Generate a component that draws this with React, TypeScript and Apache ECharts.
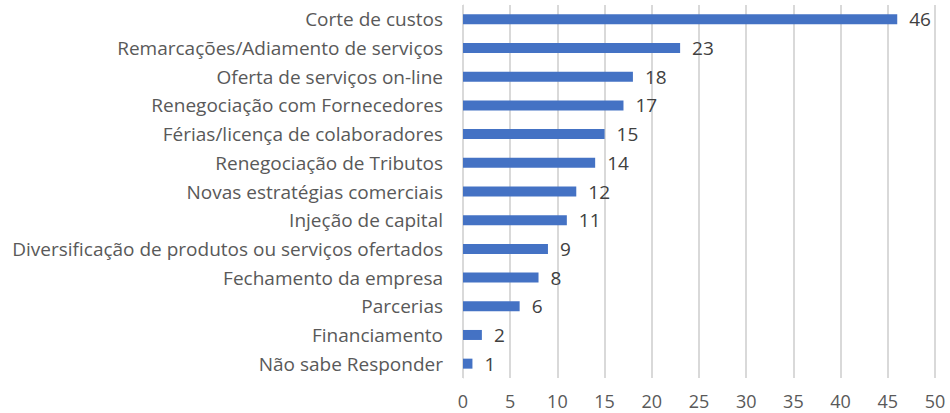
import React, { useEffect, useRef } from "react";
import * as echarts from "echarts";

const categories = [
  "Corte de custos",
  "Remarcações/Adiamento de serviços",
  "Oferta de serviços on-line",
  "Renegociação com Fornecedores",
  "Férias/licença de colaboradores",
  "Renegociação de Tributos",
  "Novas estratégias comerciais",
  "Injeção de capital",
  "Diversificação de produtos ou serviços ofertados",
  "Fechamento da empresa",
  "Parcerias",
  "Financiamento",
  "Não sabe Responder",
];
const values = [46, 23, 18, 17, 15, 14, 12, 11, 9, 8, 6, 2, 1];

export default function App() {
  const ref = useRef<HTMLDivElement>(null);
  useEffect(() => {
    const chart = echarts.init(ref.current!, null, { renderer: "svg" });
    const font = "Open Sans";
    chart.setOption({
      animation: false,
      grid: { left: 463, right: 15, top: 5, bottom: 35, containLabel: false },
      xAxis: {
        type: "value",
        min: 0,
        max: 50,
        interval: 5,
        axisLine: { show: false },
        axisTick: { show: false },
        splitLine: { lineStyle: { color: "#d9d9d9", width: 2 } },
        axisLabel: { color: "#595959", fontSize: 18, fontFamily: font, margin: 14 },
      },
      yAxis: {
        type: "category",
        data: categories,
        inverse: true,
        axisLine: { show: true, lineStyle: { color: "#d9d9d9", width: 1 } },
        axisTick: { show: false },
        axisLabel: { color: "#595959", fontSize: 19, fontFamily: font, margin: 20 },
      },
      series: [
        {
          type: "bar",
          data: values,
          barWidth: 10,
          itemStyle: { color: "#4472C4" },
          label: {
            show: true,
            position: "right",
            distance: 12,
            color: "#404040",
            fontSize: 19,
            fontFamily: font,
          },
        },
      ],
    });
    return () => chart.dispose();
  }, []);
  return <div ref={ref} style={{ width: 950, height: 413, position: "absolute", left: 0, top: 0 }} />;
}
